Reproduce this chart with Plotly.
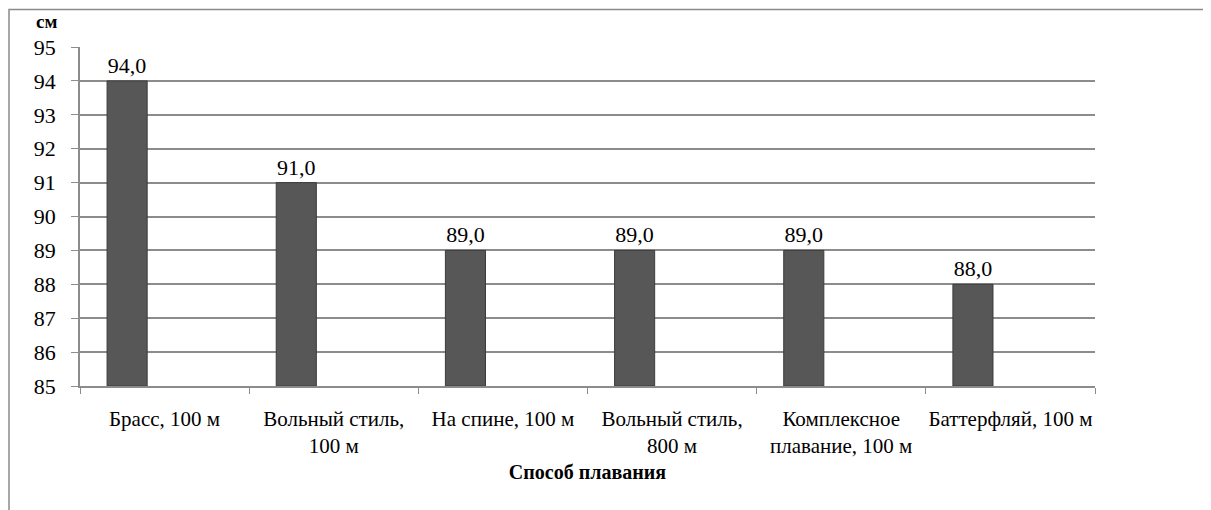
import plotly.graph_objects as go

categories = ["Брасс, 100 м", "Вольный стиль,<br>100 м", "На спине, 100 м",
              "Вольный стиль,<br>800 м", "Комплексное<br>плавание, 100 м", "Баттерфляй, 100 м"]
values = [94.0, 91.0, 89.0, 89.0, 89.0, 88.0]
y_ticks = [85, 86, 87, 88, 89, 90, 91, 92, 93, 94, 95]
y_min, y_max = 85, 95

FONT = "Liberation Serif"
GRID = "#8c8c8c"

# plot area in figure pixels
L, R, T, B = 72, 1087, 39, 378
W, H = R - L, B - T

fig = go.Figure()
fig.add_trace(go.Bar(
    x=categories, y=[v - y_min for v in values], base=y_min,
    width=0.237, offset=-0.34,
    marker=dict(color="#575757", line=dict(color="#3c3c3c", width=1)),
    text=[f"{v:.1f}".replace(".", ",") for v in values], textposition="outside",
    textfont=dict(family=FONT, size=22, color="black"),
    cliponaxis=False,
))

fig.update_layout(
    width=1211, height=510,
    margin=dict(l=L, r=1211 - R, t=T, b=510 - B, autoexpand=False),
    plot_bgcolor="white",
    showlegend=False,
    font=dict(family=FONT),
)
fig.update_xaxes(
    type="category", tickson="boundaries", ticks="outside", ticklen=6,
    tickcolor=GRID, showline=True, linecolor=GRID, linewidth=1.5,
    tickfont=dict(family=FONT, size=21, color="black"), ticklabelstandoff=13,
    tickangle=0, automargin=False,
    showgrid=False,
    title=dict(text="<b>Способ плавания</b>", font=dict(family=FONT, size=20, color="black"), standoff=8),
)
fig.update_yaxes(
    range=[y_min, y_max], tickvals=y_ticks, ticks="outside", ticklen=7, tickcolor=GRID,
    showline=True, linecolor=GRID, linewidth=1.5, automargin=False,
    showgrid=True, gridcolor=GRID, gridwidth=1.5,
    tickfont=dict(family=FONT, size=22, color="black"), ticklabelstandoff=11,
    zeroline=False,
)

fig.add_annotation(text="<b>см</b>", xref="paper", yref="paper",
                   x=(26 - L) / W, y=(B - 14) / H, xanchor="left", yanchor="middle",
                   showarrow=False, font=dict(family=FONT, size=19, color="black"))

fig.add_shape(type="rect", xref="paper", yref="paper",
              x0=(1 - L) / W, x1=(1260 - L) / W,
              y0=(B - 560) / H, y1=(B - 1.5) / H,
              line=dict(color="#8a8a8a", width=1.5), fillcolor="rgba(0,0,0,0)", layer="below")

fig.write_html("out.html")
